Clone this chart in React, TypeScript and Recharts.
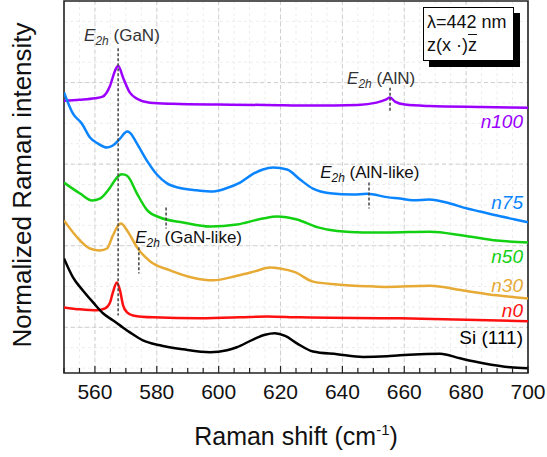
import {
  CartesianGrid,
  Line,
  LineChart,
  ReferenceArea,
  ReferenceDot,
  ReferenceLine,
  XAxis,
  YAxis,
} from "recharts";

const FONT = '"Liberation Sans", Arial, sans-serif';

// Raman spectra, x in cm-1, y in stacked normalized intensity units
const n100 = [
  [550, 138.9], [555, 139.5], [560, 140.4], [562.5, 141.4], [564.9, 148.1],
  [566.5, 157.3], [567.5, 160.3], [569.1, 153], [571.3, 143.8], [573.6, 140.1],
  [577.8, 137.7], [585, 137], [600, 136.5], [615, 136.3], [630, 135.9],
  [645, 136.3], [651, 137.7], [654, 139.5], [655.4, 140.8], [657, 138.3],
  [660.2, 136.5], [668, 135.6], [685, 135], [700, 134.6],
];
const n75 = [
  [550, 144], [552.9, 131], [555.8, 124.8], [558.4, 116.3], [561, 112.6],
  [563.9, 110.2], [565.8, 111.4], [568.1, 115.7], [570.4, 120], [571.3, 119.3],
  [573.6, 112.6], [576.8, 102.2], [580.1, 93.5], [583.3, 88.2], [587.5, 85.4],
  [593, 84], [598.2, 83.3], [602.7, 85.4], [606.9, 88.7], [611.1, 94],
  [614.3, 96.7], [617.6, 97.9], [622.1, 96.7], [626.3, 90.6], [630.5, 85],
  [636, 82.2], [643.4, 81.4], [648, 81.8], [654.4, 79.8], [658.6, 78.9],
  [662.8, 77.9], [668, 78.3], [674.8, 75.9], [680.3, 72.8], [684.5, 71],
  [690, 68.5], [695.8, 66.1], [700, 64.3],
];
const n50 = [
  [550, 88.7], [555.2, 82], [559.1, 77.7], [561.6, 78.9], [564.9, 85.7],
  [567.1, 91.8], [568.6, 93.8], [569.6, 93.6], [570.7, 92.4], [573.6, 82],
  [576.8, 72], [581, 67.3], [588.5, 64.3], [597.2, 61.8], [605.9, 63],
  [614.3, 66.7], [618.9, 67.9], [625.3, 66.1], [631.8, 61.4], [638.3, 59],
  [646.7, 58.1], [654.4, 58.1], [668.3, 58.6], [679, 56.3], [690, 53.2],
  [700, 52],
];
const n30 = [
  [550, 65.5], [555.2, 53.2], [558.4, 48.3], [561.6, 47.1], [563.9, 48.3],
  [565.8, 56.3], [567.5, 62.4], [568.4, 63.6], [570.4, 59.4], [573.6, 49],
  [577.8, 40.5], [584.3, 34.9], [591.7, 30.4], [598.2, 28.8], [605.9, 31.6],
  [611.7, 34.3], [616.6, 36.7], [619.8, 36.1], [624.7, 33.8], [630.5, 28],
  [638.3, 26.3], [648.9, 25.1], [654.4, 24.7], [668.3, 25.5], [679, 22.6],
  [690, 19.6], [700, 17.7],
];
const n0 = [
  [550, 12.2], [555.2, 11], [560.7, 10.4], [563.3, 11.6], [564.9, 15.3],
  [565.8, 21.4], [567.1, 27.5], [568.1, 22.6], [569.1, 13.5], [570.4, 9.2],
  [572.3, 7.3], [578.8, 6.1], [594, 5.5], [606.9, 6.1], [615.6, 6.7],
  [626.3, 6.1], [658.6, 5.5], [700, 3.7],
];
const si111 = [
  [550, 42.2], [552.9, 30.6], [556.1, 22.6], [559.4, 15.3], [562.6, 8.6],
  [565.8, 4.3], [568.1, 1.2], [571.3, -3.1], [575.5, -8], [581, -11],
  [588.5, -13.5], [597.2, -15.3], [602.7, -14.1], [605.9, -12.2], [611.1, -7.5],
  [615, -4.6], [618.2, -3.7], [621.5, -5.3], [625.3, -9.8], [630.5, -14.8],
  [638.3, -16.5], [646.7, -18.2], [654.4, -17.7], [658.6, -17.1], [665.1, -16.5],
  [671.6, -16.2], [678, -19], [685.5, -22], [694.2, -24.5], [700, -25.1],
];

const X_DOMAIN: [number, number] = [550, 700];
const Y_DOMAIN: [number, number] = [-28, 200];
const xTicks = Array.from({ length: 31 }, (_, i) => 550 + i * 5);
const xMajor = [560, 580, 600, 620, 640, 660, 680];
const yMajor = [0, 50, 100, 150];
const yMinor = Array.from({ length: 18 }, (_, i) => -25 + i * 12.5);

const series = [
  { name: "n100", data: n100, color: "#9b00ff", labelY: 122.4 },
  { name: "n75", data: n75, color: "#0a84ff", labelY: 72.8 },
  { name: "n50", data: n50, color: "#12d012", labelY: 39.2 },
  { name: "n30", data: n30, color: "#e6aa35", labelY: 21.4 },
  { name: "n0", data: n0, color: "#ff1010", labelY: 6.1 },
  { name: "Si (111)", data: si111, color: "#000000", labelY: -10.4 },
];

// peak markers: x, dash from y1 to y2, label anchor
const peaks = [
  { tail: "(GaN)", x: 567.5, y1: 171, y2: 7.3, lx: 556.5, ly: 175.6, color: "#333" },
  { tail: "(AlN)", x: 655.4, y1: 146.9, y2: 131.6, lx: 641.5, ly: 149.3, color: "#333" },
  { tail: "(AlN-like)", x: 648.6, y1: 88.7, y2: 72.8, lx: 632.8, ly: 91.8, color: "#111" },
  { tail: "(GaN-like)", x: 583, y1: 73.4, y2: 60.6, lx: 573, ly: 51.4, color: "#111" },
];
const extraDash = { x: 574.2, y1: 49, y2: 33 };

const toPts = (arr: number[][]) => arr.map(([x, y]) => ({ x, y }));

function scaleOf(axis: any, v: number, fallback: () => number) {
  if (axis && typeof axis.scale === "function") return axis.scale(v);
  return fallback();
}

const gridX = (vals: number[]) => (p: any) =>
  vals.map((v) =>
    scaleOf(p.xAxis, v, () => p.offset.left + ((v - X_DOMAIN[0]) / (X_DOMAIN[1] - X_DOMAIN[0])) * p.offset.width)
  );
const gridY = (vals: number[]) => (p: any) =>
  vals.map((v) =>
    scaleOf(p.yAxis, v, () => p.offset.top + ((Y_DOMAIN[1] - v) / (Y_DOMAIN[1] - Y_DOMAIN[0])) * p.offset.height)
  );

function XTick(props: any) {
  const { x, y, payload } = props;
  const v = payload.value;
  const major = v % 20 === 0;
  return (
    <g>
      <line x1={x} x2={x} y1={y} y2={y - (major ? 7 : 5)} stroke="#222" strokeWidth={1.2} />
      {major && v > 550 && (
        <text x={x} y={y + 26} textAnchor="middle" fontSize={21} fontFamily={FONT} fill="#111">
          {v}
        </text>
      )}
    </g>
  );
}

function E2h({ viewBox, tail, color }: any) {
  return (
    <text x={viewBox.x} y={viewBox.y} fontSize={17} fill={color} fontFamily={FONT}>
      <tspan fontStyle="italic">E</tspan>
      <tspan fontStyle="italic" fontSize={12} dy={4}>2h</tspan>
      <tspan dy={-4}>{"\u00a0" + tail}</tspan>
    </text>
  );
}

function SeriesName({ viewBox, name, color }: any) {
  const italic = name !== "Si (111)";
  return (
    <text
      x={viewBox.x - 5}
      y={viewBox.y}
      textAnchor="end"
      fontSize={19}
      fontStyle={italic ? "italic" : "normal"}
      fill={color}
      fontFamily={FONT}
    >
      {name}
    </text>
  );
}

function XLabel({ viewBox }: any) {
  return (
    <text x={viewBox.x + viewBox.width / 2} y={viewBox.y + 72} textAnchor="middle" fontSize={25} fontFamily={FONT} fill="#111">
      Raman shift (cm
      <tspan fontSize={15} dy={-10}>-1</tspan>
      <tspan dy={10}>)</tspan>
    </text>
  );
}

export default function App() {
  return (
    <div style={{ position: "absolute", left: 0, top: 0, width: 547, height: 457, background: "#fff", fontFamily: FONT }}>
      <LineChart width={547} height={457} margin={{ top: 1, right: 19, left: 64, bottom: 0 }}>
        <CartesianGrid
          stroke="#ededed"
          strokeDasharray="3 3"
          verticalCoordinatesGenerator={gridX(xTicks)}
          horizontalCoordinatesGenerator={gridY(yMinor)}
        />
        <CartesianGrid
          stroke="#cfcfcf"
          strokeDasharray="4 3"
          verticalCoordinatesGenerator={gridX(xMajor)}
          horizontalCoordinatesGenerator={gridY(yMajor)}
        />
        <XAxis
          type="number"
          dataKey="x"
          domain={X_DOMAIN}
          ticks={xTicks}
          interval={0}
          allowDataOverflow
          height={84}
          tickSize={0}
          tickMargin={0}
          tickLine={false}
          axisLine={false}
          tick={<XTick />}
          label={{ content: <XLabel /> } as any}
        />
        <YAxis type="number" domain={Y_DOMAIN} allowDataOverflow hide />
        {series.map((s) => (
          <Line
            key={s.name}
            data={toPts(s.data)}
            dataKey="y"
            type="monotone"
            stroke={s.color}
            strokeWidth={2.5}
            dot={false}
            activeDot={false}
            isAnimationActive={false}
          />
        ))}
        {peaks.map((p) => (
          <ReferenceLine
            key={"d" + p.tail}
            segment={[{ x: p.x, y: p.y1 }, { x: p.x, y: p.y2 }]}
            stroke="#444"
            strokeWidth={1.5}
            strokeDasharray="3 2"
          />
        ))}
        <ReferenceLine
          segment={[{ x: extraDash.x, y: extraDash.y1 }, { x: extraDash.x, y: extraDash.y2 }]}
          stroke="#444"
          strokeWidth={1.5}
          strokeDasharray="3 2"
        />
        {peaks.map((p) => (
          <ReferenceDot
            key={"t" + p.tail}
            x={p.lx}
            y={p.ly}
            r={0}
            fill="none"
            stroke="none"
            label={(lp: any) => <E2h viewBox={lp.viewBox} tail={p.tail} color={p.color} />}
          />
        ))}
        {series.map((s) => (
          <ReferenceDot
            key={"n" + s.name}
            x={700}
            y={s.labelY}
            r={0}
            fill="none"
            stroke="none"
            label={(lp: any) => <SeriesName viewBox={lp.viewBox} name={s.name} color={s.color} />}
          />
        ))}
        <ReferenceArea x1={550} x2={700} y1={-28} y2={200} fill="none" stroke="#222" strokeWidth={1.6} fillOpacity={0} />
      </LineChart>
      <div
        style={{
          position: "absolute",
          left: 22,
          top: 185,
          transform: "translate(-50%, -50%) rotate(-90deg)",
          whiteSpace: "nowrap",
          fontSize: 26,
          color: "#111",
        }}
      >
        Normalized Raman intensity
      </div>
      <div
        style={{
          position: "absolute",
          left: 423,
          top: 7,
          width: 91,
          height: 54,
          border: "1.5px solid #000",
          background: "#fff",
          boxShadow: "6px 6px 0 #000",
          fontSize: 18,
          lineHeight: "23px",
          paddingLeft: 3,
          paddingTop: 3,
          boxSizing: "border-box",
          color: "#111",
        }}
      >
        <div>λ=442 nm</div>
        <div>
          z(x ·)<span style={{ textDecoration: "overline" }}>z</span>
        </div>
      </div>
    </div>
  );
}
